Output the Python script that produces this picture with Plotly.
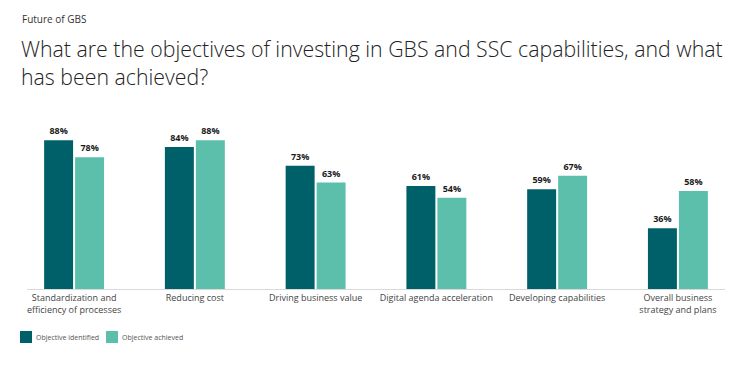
import plotly.graph_objects as go

categories = ["Standardization and<br>efficiency of processes", "Reducing cost", "Driving business value",
              "Digital agenda acceleration", "Developing capabilities", "Overall business<br>strategy and plans"]
identified = [88, 84, 73, 61, 59, 36]
achieved = [78, 88, 63, 54, 67, 58]
series_names = ["Objective identified", "Objective achieved"]

DARK = "#006069"
LIGHT = "#5bbfab"
FONT = "Open Sans"

L, T, PW, PH = 27, 120, 698, 169
BOTTOM = T + PH


def px_x(x):
    return (x - L) / PW


def px_y(y):
    return (BOTTOM - y) / PH


fig = go.Figure()
for name, vals, col in [(series_names[0], identified, DARK), (series_names[1], achieved, LIGHT)]:
    fig.add_trace(go.Bar(
        x=categories, y=vals, name=name, marker=dict(color=col, line=dict(width=0)),
        text=[f"{v}%" for v in vals], textposition="outside", cliponaxis=False,
        textfont=dict(family=FONT, size=9, color="#1a1a1a", weight="bold"),
    ))

fig.update_layout(
    width=750, height=365,
    margin=dict(l=L, r=750 - L - PW, t=T, b=365 - BOTTOM, autoexpand=False),
    paper_bgcolor="white", plot_bgcolor="white",
    barmode="group", bargap=0.487, bargroupgap=0.065,
    showlegend=False,
    font=dict(family=FONT),
    xaxis=dict(range=[-0.39, 5.39], showline=True, linecolor="#d9d9d9", linewidth=1, automargin=False,
               tickfont=dict(family=FONT, size=9, color="#444"), ticks="", showgrid=False),
    yaxis=dict(range=[0, 100], visible=False, showgrid=False, automargin=False),
)
fig.add_annotation(text="Future of GBS", xref="paper", yref="paper", x=px_x(20), y=px_y(10),
                   xanchor="left", yanchor="top", showarrow=False,
                   font=dict(family=FONT, size=10, color="#333"))
fig.add_annotation(text="What are the objectives of investing in GBS and SSC capabilities, and what<br>has been achieved?",
                   xref="paper", yref="paper", x=px_x(19), y=px_y(32), xanchor="left", yanchor="top",
                   align="left", showarrow=False,
                   font=dict(family=FONT, size=21.3, color="#222", weight=300))

# manual legend (symbols + real text)
legend_x = [20, 106]
for i, (name, col) in enumerate(zip(series_names, [DARK, LIGHT])):
    fig.add_shape(type="rect", xref="paper", yref="paper",
                  x0=px_x(legend_x[i]), x1=px_x(legend_x[i] + 12),
                  y0=px_y(343), y1=px_y(331),
                  fillcolor=col, line=dict(width=0))
    fig.add_annotation(text=name, xref="paper", yref="paper", x=px_x(legend_x[i] + 14),
                       y=px_y(337), xanchor="left", yanchor="middle", showarrow=False,
                       font=dict(family=FONT, size=7, color="#555"))

fig.write_html("out.html", config={"displayModeBar": False},
               post_script="document.body.style.margin='0';")
